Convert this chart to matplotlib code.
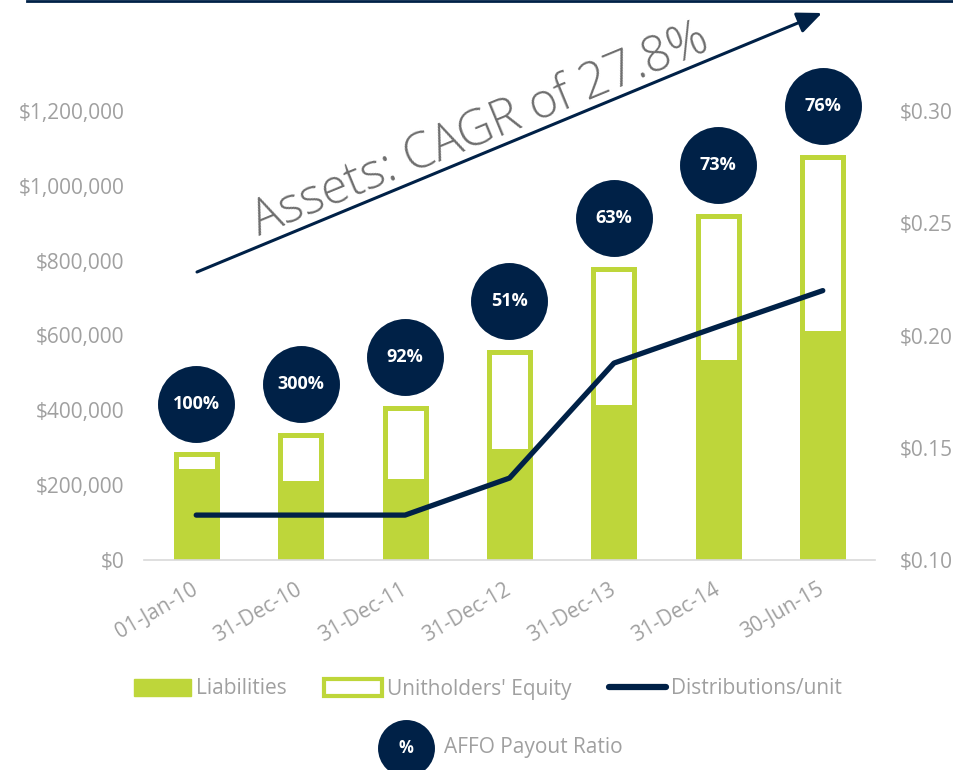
import matplotlib
matplotlib.use("Agg")
import matplotlib.pyplot as plt
from matplotlib.patches import Patch
from matplotlib.lines import Line2D
from matplotlib.ticker import FuncFormatter

plt.rcParams['font.family'] = ['Open Sans', 'DejaVu Sans']

# data
dates = ['01-Jan-10', '31-Dec-10', '31-Dec-11', '31-Dec-12', '31-Dec-13', '31-Dec-14', '30-Jun-15']
liabilities = [237000, 207000, 210000, 290000, 409000, 528000, 607000]
equity = [45000, 128000, 196000, 265000, 369000, 391000, 471000]
distributions = [0.12, 0.12, 0.12, 0.1365, 0.1877, 0.204, 0.22]
payout = ['100%', '300%', '92%', '51%', '63%', '73%', '76%']

green = '#BED63A'
navy = '#002147'
grey = '#A0A0A0'

W, H = 954, 770
fig = plt.figure(figsize=(W / 100, H / 100), dpi=100)
ax = fig.add_axes([144 / W, 1 - 560 / H, 731 / W, 449 / H])

x = list(range(len(dates)))
totals = [l + e for l, e in zip(liabilities, equity)]

ax.bar(x, liabilities, width=0.393, color=green, edgecolor=green, linewidth=3.6, zorder=2)
ax.bar(x, equity, bottom=liabilities, width=0.393, color='white', edgecolor=green,
       linewidth=3.6, zorder=2)

ax.set_xlim(-0.5, len(dates) - 0.5)
ax.set_ylim(0, 1200000)
ax.set_yticks(range(0, 1200001, 200000))
ax.yaxis.set_major_formatter(FuncFormatter(lambda v, p: '${:,.0f}'.format(v)))
ax.set_xticks(x)
ax.set_xticklabels(dates, rotation=30, ha='right', rotation_mode='anchor', va='center')
ax.tick_params(axis='y', length=0, pad=14, labelsize=15, labelcolor=grey)
ax.tick_params(axis='x', length=0, pad=20, labelsize=15, labelcolor=grey)
for s in ['top', 'left', 'right']:
    ax.spines[s].set_visible(False)
ax.spines['bottom'].set_color('#D9D9D9')
ax.spines['bottom'].set_linewidth(1.2)

# payout ratio circles
circle_y = [t + 136000 for t in totals]
ax.scatter(x, circle_y, s=3070, color=navy, zorder=4, clip_on=False, linewidths=0)
for xi, yi, lab in zip(x, circle_y, payout):
    ax.text(xi, yi, lab, color='white', fontsize=13, fontweight='bold',
            ha='center', va='center', zorder=5)

# distributions per unit on the right axis
ax2 = ax.twinx()
ax2.plot(x, distributions, color=navy, linewidth=3.8, solid_capstyle='round', zorder=3)
ax2.set_ylim(0.10, 0.30)
ax2.set_yticks([0.10, 0.15, 0.20, 0.25, 0.30])
ax2.yaxis.set_major_formatter(FuncFormatter(lambda v, p: '${:.2f}'.format(v)))
ax2.tick_params(axis='y', length=0, pad=18, labelsize=15, labelcolor=grey)
for s in ['top', 'left', 'right', 'bottom']:
    ax2.spines[s].set_visible(False)

# CAGR arrow and caption
ax.annotate('', xy=(822 / W, 1 - 13 / H), xytext=(197 / W, 1 - 272 / H),
            xycoords='figure fraction', textcoords='figure fraction',
            arrowprops=dict(arrowstyle='-|>,head_length=1.5,head_width=0.65',
                            color=navy, lw=2.2, shrinkA=0, shrinkB=0))
fig.text(485 / W, 1 - 143 / H, 'Assets: CAGR of 27.8%', rotation=22.4,
         rotation_mode='anchor', ha='center', va='baseline', fontsize=35,
         color='#6E6E6E', fontweight='light')

# top rule
fig.add_artist(Line2D([27 / W, 1], [1 - 1 / H, 1 - 1 / H], color=navy, linewidth=2,
                      transform=fig.transFigure))

# legend
handles = [Patch(facecolor=green, edgecolor=green, label='Liabilities'),
           Patch(facecolor='white', edgecolor=green, linewidth=3, label="Unitholders' Equity"),
           Line2D([0], [0], color=navy, linewidth=4.5, solid_capstyle='round',
                  label='Distributions/unit')]
leg = fig.legend(handles=handles, loc='center', bbox_to_anchor=(488 / W, 1 - 689 / H),
                 ncol=3, frameon=False, fontsize=15, handlelength=2.75, handleheight=0.9,
                 handletextpad=0.25, columnspacing=1.8, labelcolor=grey)

fig.add_artist(Line2D([406 / W], [1 - 748 / H], marker='o', markersize=41,
                      color=navy, markeredgewidth=0, transform=fig.transFigure))
fig.text(406 / W, 1 - 748 / H, '%', color='white', fontsize=12, fontweight='bold',
         ha='center', va='center')
fig.text(444 / W, 1 - 748 / H, 'AFFO Payout Ratio', color=grey, fontsize=15,
         ha='left', va='center')

fig.savefig('out.png', dpi=100)
